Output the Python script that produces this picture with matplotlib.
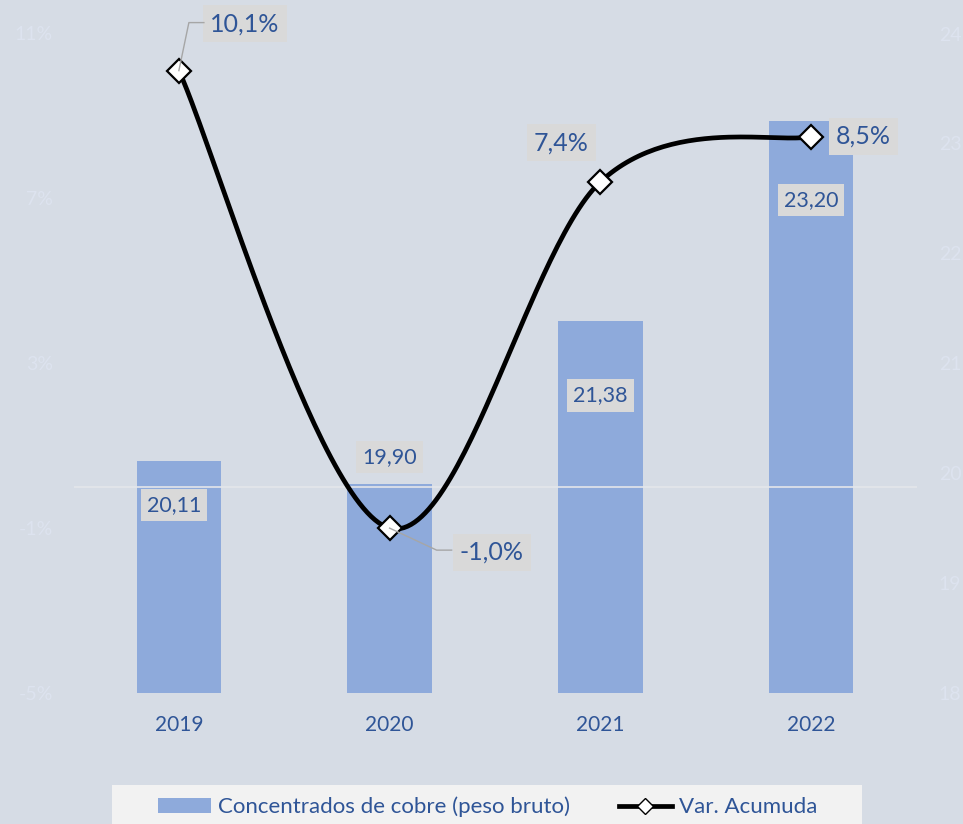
import numpy as np
import matplotlib
matplotlib.use("Agg")
import matplotlib.pyplot as plt
from matplotlib.lines import Line2D
from matplotlib.patches import Patch, Rectangle

years = ["2019", "2020", "2021", "2022"]
concentrados = [20.11, 19.90, 21.38, 23.20]
var_acumuda = [10.1, -1.0, 7.4, 8.5]
bar_labels = ["20,11", "19,90", "21,38", "23,20"]
var_labels = ["10,1%", "-1,0%", "7,4%", "8,5%"]
left_ticks = [-5, -1, 3, 7, 11]
left_tick_labels = ["-5%", "-1%", "3%", "7%", "11%"]
right_ticks = [18, 19, 20, 21, 22, 23, 24]

BG = "#d6dce5"
BAR = "#8eaadb"
TXT = "#2f5597"
FAINT = "#dde3ef"
BOXC = "#d9d9d9"

plt.rcParams['font.family'] = ['Lato', 'DejaVu Sans']

fig = plt.figure(figsize=(9.63, 8.24), dpi=100, facecolor=BG)
W, H = 963, 824
ax = fig.add_axes([73.5 / W, 1 - 693 / H, (916.5 - 73.5) / W, (693 - 33.5) / H])
ax2 = ax.twinx()
ax.set_zorder(ax2.get_zorder() + 1)
ax.patch.set_visible(False)
ax2.set_facecolor(BG)

x = np.arange(len(years))

# bars on the right axis
ax2.bar(x, concentrados, width=0.4, color=BAR, zorder=2)
ax2.set_ylim(18, 24)
ax2.set_yticks(right_ticks)
ax2.set_yticklabels([str(t) for t in right_ticks])

# left axis
ax.set_ylim(-5, 11)
ax.set_xlim(-0.5, len(years) - 0.5)
ax.set_yticks(left_ticks)
ax.set_yticklabels(left_tick_labels)
ax.set_xticks(x)
ax.set_xticklabels(years)
ax.axhline(0, color="#e4e6ea", lw=1.2, zorder=1)

for a in (ax, ax2):
    for s in a.spines.values():
        s.set_visible(False)
ax.tick_params(axis='y', length=0, pad=15, labelsize=14, labelcolor=FAINT)
ax2.tick_params(axis='y', length=0, pad=16, labelsize=14, labelcolor=FAINT)
ax.tick_params(axis='x', length=0, pad=16, labelsize=15, labelcolor=TXT)

# smooth line (Catmull-Rom style, like Excel smoothing)
px = np.array(x, dtype=float)
py = np.array(var_acumuda, dtype=float)
cx, cy = [], []
n = len(px)
t = np.linspace(0, 1, 60)
for i in range(n - 1):
    p0 = np.array([px[max(i - 1, 0)], py[max(i - 1, 0)]])
    p1 = np.array([px[i], py[i]])
    p2 = np.array([px[i + 1], py[i + 1]])
    p3 = np.array([px[min(i + 2, n - 1)], py[min(i + 2, n - 1)]])
    c1 = p1 + (p2 - p0) / 6
    c2 = p2 - (p3 - p1) / 6
    b = ((1 - t) ** 3)[:, None] * p1 + (3 * (1 - t) ** 2 * t)[:, None] * c1 + \
        (3 * (1 - t) * t ** 2)[:, None] * c2 + (t ** 3)[:, None] * p2
    cx.extend(b[:, 0]); cy.extend(b[:, 1])
ax.plot(cx, cy, color="black", lw=3.4, zorder=3, solid_capstyle='round')
ax.plot(px, py, linestyle='none', marker='D', markersize=12.5, markerfacecolor='white',
        markeredgecolor='black', markeredgewidth=1.6, zorder=4)

box = dict(boxstyle="square,pad=0.28", facecolor=BOXC, edgecolor='none')

# percentage labels (offset in pixels)
var_offsets = [(66, 47), (102, -24), (-39, 39), (52, 0)]
for i, (lab, off) in enumerate(zip(var_labels, var_offsets)):
    ax.annotate(lab, (px[i], py[i]), xytext=off, textcoords='offset pixels',
                ha='center', va='center', fontsize=18, color=TXT, bbox=box, zorder=6)

# bar labels
bar_offsets = [(-5, -44), (0, 27), (0, -74), (0, -79)]
for i, (lab, off) in enumerate(zip(bar_labels, bar_offsets)):
    ax2.annotate(lab, (x[i], concentrados[i]), xytext=off, textcoords='offset pixels',
                 ha='center', va='center', fontsize=15.5, color=TXT, bbox=box, zorder=5)

# leader lines (in pixel offsets relative to marker)
fig.canvas.draw()
def to_px(xd, yd):
    return ax.transData.transform((xd, yd))
leaders = [(0, [(0, 0), (10, 48), (25, 48)]), (1, [(0, 0), (47, -22), (62, -22)])]
for i, pts in leaders:
    bx, by = to_px(px[i], py[i])
    xs = [bx + p[0] for p in pts]
    ys = [by + p[1] for p in pts]
    fig.add_artist(Line2D(xs, ys, transform=None, color="#a6a6a6", lw=1.0, zorder=2.5))

# legend
fig.add_artist(Rectangle((112 / W, 0), (862 - 112) / W, (824 - 785) / H,
                         transform=fig.transFigure, facecolor="#f2f2f2", edgecolor='none', zorder=0))
handles = [Patch(facecolor=BAR, edgecolor='none', label="Concentrados de cobre (peso bruto)"),
           Line2D([0], [0], color='black', lw=3.4, marker='D', markersize=8,
                  markerfacecolor='white', markeredgecolor='black', label="Var. Acumuda")]
leg = fig.legend(handles=handles, loc='center', bbox_to_anchor=(487.5 / W, 1 - 807 / H), ncol=2,
                 frameon=False, fontsize=16, handlelength=2.4, handletextpad=0.3,
                 columnspacing=2.2, borderpad=0)
for tx in leg.get_texts():
    tx.set_color(TXT)

fig.savefig("out.png", dpi=100, facecolor=BG)
